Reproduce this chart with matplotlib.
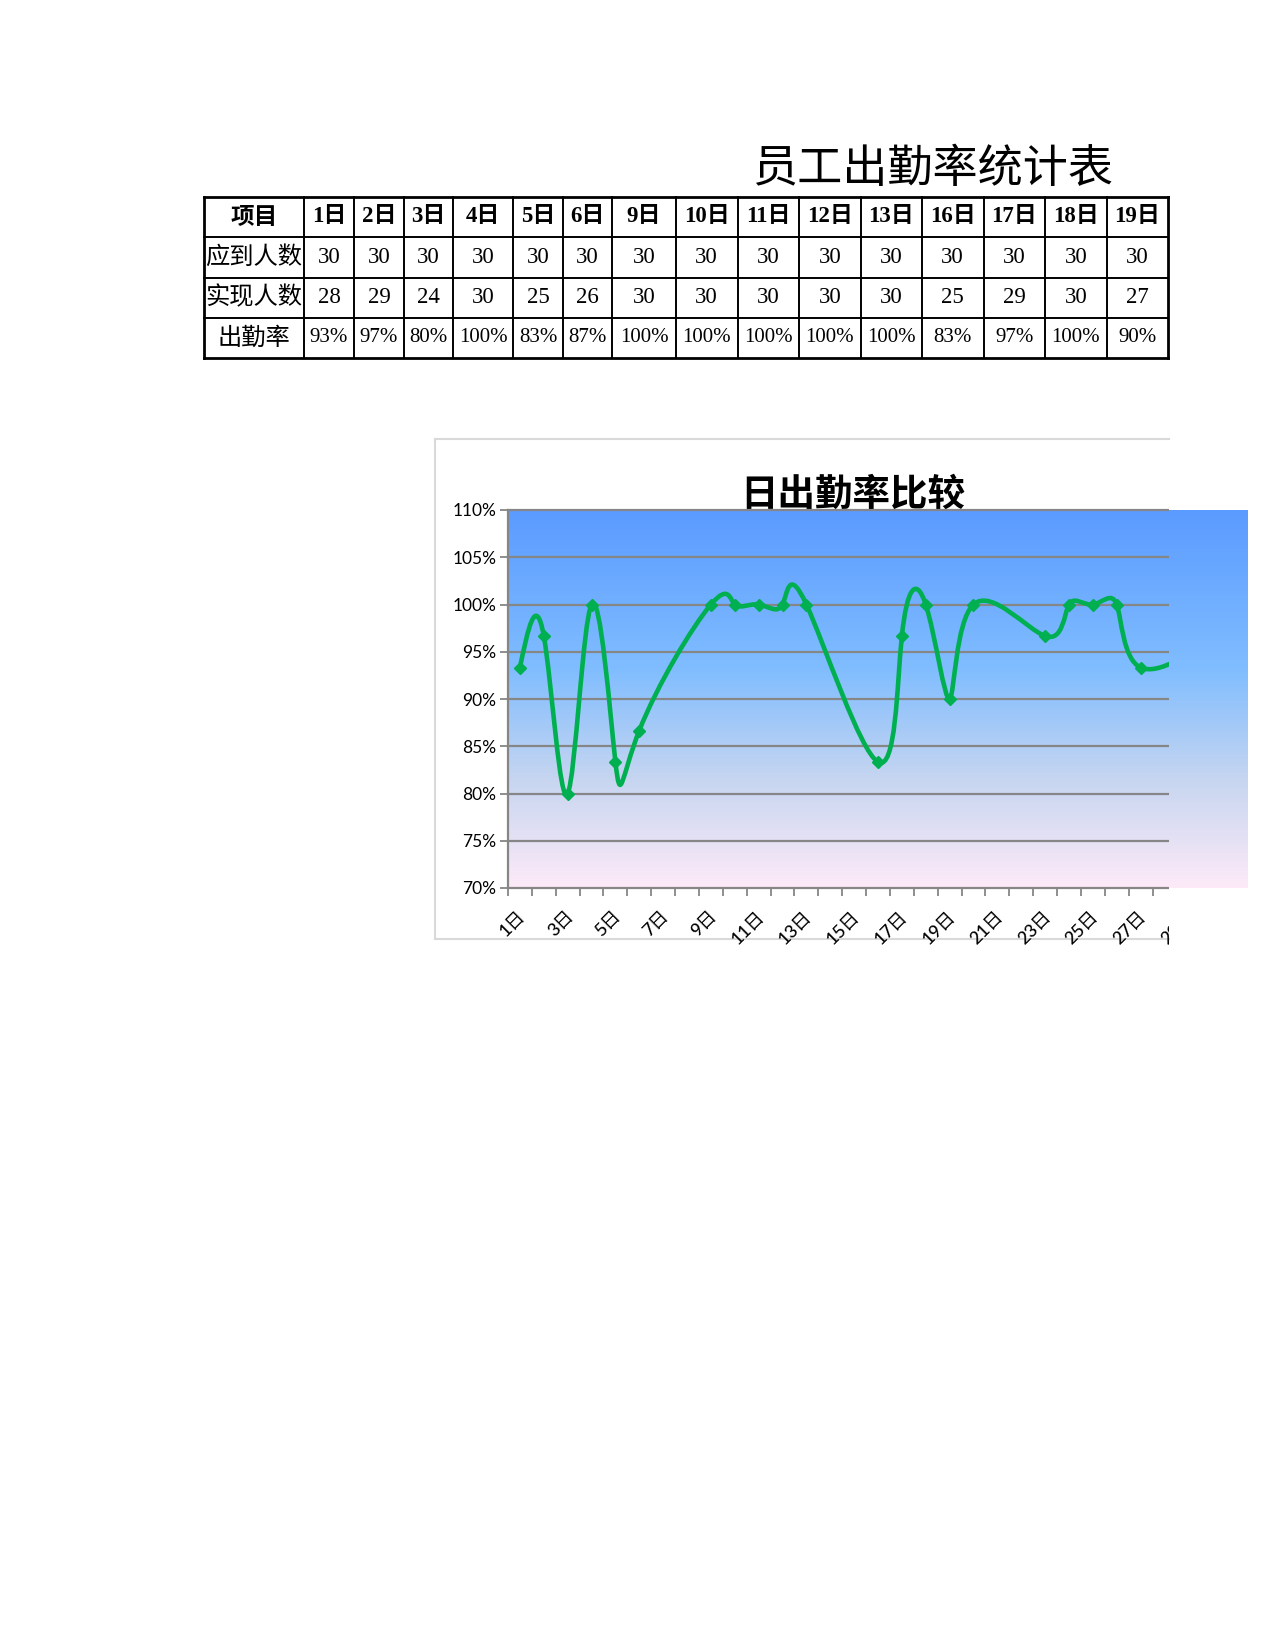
import numpy as np
import matplotlib
matplotlib.use("Agg")
import matplotlib.pyplot as plt
from matplotlib.path import Path
from matplotlib.patches import PathPatch
from matplotlib.transforms import Bbox, TransformedBbox, offset_copy
from matplotlib.ticker import PercentFormatter

# ---------------- data ----------------
table_title = "员工出勤率统计表"
row_labels = ["项目", "应到人数", "实现人数", "出勤率"]
table_days = [1, 2, 3, 4, 5, 6, 9, 10, 11, 12, 13, 16, 17, 18, 19]
table_expected = [30, 30, 30, 30, 30, 30, 30, 30, 30, 30, 30, 30, 30, 30, 30]
table_actual = [28, 29, 24, 30, 25, 26, 30, 30, 30, 30, 30, 25, 29, 30, 27]

chart_title = "日出勤率比较"
x_categories = [f"{d}日" for d in range(1, 32)]
chart_days = [1, 2, 3, 4, 5, 6, 9, 10, 11, 12, 13, 16, 17, 18, 19, 20,
              23, 24, 25, 26, 27, 30, 31]
chart_expected = [30] * len(chart_days)
chart_actual = [28, 29, 24, 30, 25, 26, 30, 30, 30, 30, 30, 25, 29, 30, 27, 30,
                29, 30, 30, 30, 28, 29, 30]
y_ticks = [0.70, 0.75, 0.80, 0.85, 0.90, 0.95, 1.00, 1.05, 1.10]

# ---------------- page setup (pixel space of the 1275x1650 page) ----------------
W, H = 1275, 1650
fig = plt.figure(figsize=(W / 100, H / 100), dpi=100)
fig.patch.set_facecolor("white")

CJK = "Noto Sans CJK SC"
SERIF_MIX = ["Liberation Serif", CJK]
SANS_MIX = ["Lato", CJK]

bg = fig.add_axes([0, 0, 1, 1])
bg.set_xlim(0, W)
bg.set_ylim(H, 0)
bg.axis("off")
bg.set_zorder(0)
bg.patch.set_alpha(0)

# ---------------- table ----------------
bg.text(933, 169, table_title, family=[CJK], fontweight="light", fontsize=32.5,
        ha="center", va="center", color="black")

col_widths = [100, 50, 50, 49, 60, 50, 49, 64] + [61.5] * 8
x_edges = np.concatenate([[204], 204 + np.cumsum(col_widths)])
y_edges = [197, 237, 277.5, 318, 358]

for i, xe in enumerate(x_edges):
    lw = 2.0 if i in (0, len(x_edges) - 1) else 1.4
    bg.plot([xe, xe], [y_edges[0], y_edges[-1]], color="black", lw=lw,
            solid_capstyle="projecting")
for j, ye in enumerate(y_edges):
    lw = 2.0 if j in (0, len(y_edges) - 1) else 1.4
    bg.plot([x_edges[0], x_edges[-1]], [ye, ye], color="black", lw=lw,
            solid_capstyle="projecting")

row_centers = [(y_edges[k] + y_edges[k + 1]) / 2 for k in range(4)]
xc0 = (x_edges[0] + x_edges[1]) / 2
bg.text(xc0, row_centers[0], row_labels[0], family=[CJK], fontweight="bold",
        fontsize=17, ha="center", va="center")
for k in (1, 2, 3):
    bg.text(xc0, row_centers[k], row_labels[k], family=[CJK], fontweight="light",
            fontsize=17.5, ha="center", va="center")

for c, (d, e, a) in enumerate(zip(table_days, table_expected, table_actual)):
    xc = (x_edges[c + 1] + x_edges[c + 2]) / 2
    bg.text(xc, row_centers[0], f"{d}日", family=SERIF_MIX, fontweight="bold",
            fontsize=16.5, ha="center", va="center")
    bg.text(xc, row_centers[1], f"{e}", family=SERIF_MIX, fontsize=16.5,
            ha="center", va="center")
    bg.text(xc, row_centers[2], f"{a}", family=SERIF_MIX, fontsize=16.5,
            ha="center", va="center")
    bg.text(xc, row_centers[3], f"{round(a / e * 100)}%", family=SERIF_MIX,
            fontsize=15, ha="center", va="center")

# ---------------- chart frame & title ----------------
CLIP_X = 1169
border_c = "#D9D9D9"
bg.plot([435, CLIP_X], [439, 439], color=border_c, lw=1.5)
bg.plot([435, CLIP_X], [939, 939], color=border_c, lw=1.5)
bg.plot([435, 435], [439, 939], color=border_c, lw=1.5)
bg.text(853, 494, chart_title, family=[CJK], fontweight="bold", fontsize=27,
        ha="center", va="center", color="black")

# ---------------- chart axes ----------------
px0, px1, py0, py1 = 508, 1248, 510, 888
ax = fig.add_axes([px0 / W, 1 - py1 / H, (px1 - px0) / W, (py1 - py0) / H])
ax.set_zorder(1)
ax.patch.set_alpha(0)
ax.set_xlim(0.5, len(x_categories) + 0.5)
ax.set_ylim(y_ticks[0], y_ticks[-1])

clipbox = TransformedBbox(Bbox([[0, 0], [CLIP_X / W, 1]]), fig.transFigure)

# gradient plot-area fill
stops = [(0.0, (91, 155, 255)), (0.42, (128, 189, 255)), (0.72, (200, 214, 240)),
         (1.0, (253, 234, 248))]
pos = np.linspace(0, 1, 256)
grad = np.zeros((256, 1, 3))
for ch in range(3):
    grad[:, 0, ch] = np.interp(pos, [s[0] for s in stops],
                               [s[1][ch] / 255 for s in stops])
ax.imshow(grad, extent=[0.5, len(x_categories) + 0.5, y_ticks[0], y_ticks[-1]],
          aspect="auto", origin="upper", interpolation="bilinear", zorder=0)

grid_c = "#868686"
for v in y_ticks:
    ln = ax.axhline(v, color=grid_c, lw=1.6, zorder=1)
    ln.set_clip_path(None)
    ln.set_clip_box(clipbox)

for s in ("top", "right", "bottom"):
    ax.spines[s].set_visible(False)
ax.spines["left"].set_color(grid_c)
ax.spines["left"].set_linewidth(1.6)

ax.set_yticks(y_ticks)
ax.yaxis.set_major_formatter(PercentFormatter(1.0, decimals=0))
ax.tick_params(axis="y", direction="out", length=6, width=1.3, color=grid_c,
               pad=2.5, labelsize=12.5, labelcolor="black")
for lab in ax.get_yticklabels():
    lab.set_family(SANS_MIX)
ax.set_xticks([])

# x tick marks at category boundaries
xaxis_tr = ax.get_xaxis_transform()
bounds = np.arange(0.5, len(x_categories) + 1.0, 1.0)
tick_len = 8 / (py1 - py0)
tk = ax.vlines(bounds, -tick_len, 0, transform=xaxis_tr, colors=grid_c, lw=1.3,
               zorder=2)
tk.set_clip_path(None)
tk.set_clip_box(clipbox)

# x labels (every other category), rotated
lab_tr = offset_copy(xaxis_tr, fig=fig, x=3, y=-26, units="dots")
for i, cat in enumerate(x_categories):
    if i % 2 == 0:
        t = ax.text(i + 1, 0, cat, transform=lab_tr, rotation=45,
                    rotation_mode="anchor", ha="right", va="center",
                    family=SANS_MIX, fontsize=13, fontweight="medium",
                    color="black")
        t.set_clip_on(True)
        t.set_clip_box(clipbox)

# ---------------- smoothed series: parametric natural cubic spline, uniform parameter ----------------
rates = np.array(chart_actual, float) / np.array(chart_expected, float)
xs = np.array(chart_days, float)


def spline_path(xv, yv):
    n = len(xv)

    def second(v):
        A = np.zeros((n, n))
        b = np.zeros(n)
        A[0, 0] = A[-1, -1] = 1.0
        for i in range(1, n - 1):
            A[i, i - 1], A[i, i], A[i, i + 1] = 1.0, 4.0, 1.0
            b[i] = 6 * (v[i + 1] - 2 * v[i] + v[i - 1])
        return np.linalg.solve(A, b)

    Mx, My = second(xv), second(yv)
    verts = [(xv[0], yv[0])]
    codes = [Path.MOVETO]
    for i in range(n - 1):
        cps = []
        for v, M in ((xv, Mx), (yv, My)):
            d0 = (v[i + 1] - v[i]) - (2 * M[i] + M[i + 1]) / 6
            d1 = (v[i + 1] - v[i]) + (M[i] + 2 * M[i + 1]) / 6
            cps.append((v[i] + d0 / 3, v[i + 1] - d1 / 3))
        verts += [(cps[0][0], cps[1][0]), (cps[0][1], cps[1][1]), (xv[i + 1], yv[i + 1])]
        codes += [Path.CURVE4] * 3
    return Path(verts, codes)


green = "#00B050"
patch = PathPatch(spline_path(xs, rates), facecolor="none", edgecolor=green, lw=3.3,
                  capstyle="round", joinstyle="round", zorder=3)
ax.add_patch(patch)
patch.set_clip_path(None)
patch.set_clip_box(clipbox)

mk, = ax.plot(xs, rates, ls="none", marker="D", ms=6, color=green, zorder=4)
mk.set_clip_path(None)
mk.set_clip_box(clipbox)

fig.savefig("out.png", dpi=100, facecolor="white")
